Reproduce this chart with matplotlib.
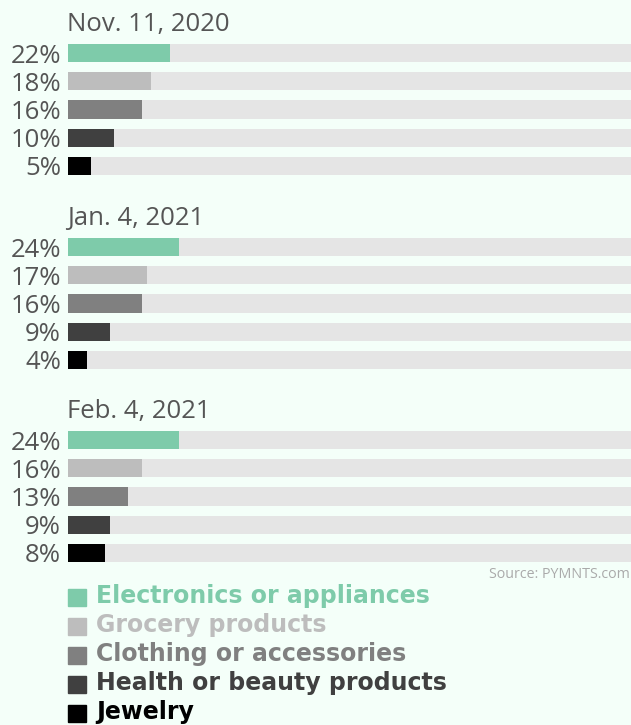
import matplotlib.pyplot as plt

# data
dates = ['Nov. 11, 2020', 'Jan. 4, 2021', 'Feb. 4, 2021']
categories = ['Electronics or appliances', 'Grocery products', 'Clothing or accessories',
              'Health or beauty products', 'Jewelry']
nov_2020 = [22, 18, 16, 10, 5]
jan_2021 = [24, 17, 16, 9, 4]
feb_2021 = [24, 16, 13, 9, 8]
colors = ['#7ecbaa', '#bdbdbd', '#808080', '#404040', '#000000']

W, H = 631, 725
bg = '#f4fff9'
txt = '#555555'
xmax = 121.6  # track spans the full axis width

fig = plt.figure(figsize=(W / 100, H / 100), dpi=100, facecolor=bg)
plt.rcParams['font.family'] = ['Open Sans', 'DejaVu Sans']

panel_tops = [39, 233, 426]  # pixel rows of each panel
panel_h = 141

for date, vals, top in zip(dates, [nov_2020, jan_2021, feb_2021], panel_tops):
    ax = fig.add_axes([68 / W, 1 - (top + panel_h) / H, (W - 68) / W, panel_h / H])
    ax.set_facecolor(bg)
    y = range(len(vals))
    ax.barh(y, [xmax] * len(vals), height=0.64, color='#e5e5e5')
    ax.barh(y, vals, height=0.64, color=colors)
    ax.set_xlim(0, xmax)
    ax.set_ylim(len(vals) - 0.5, -0.5)
    ax.set_yticks(list(y))
    ax.set_yticklabels([f'{v}%' for v in vals], fontsize=18.5, color=txt)
    ax.tick_params(axis='y', length=0, pad=5)
    ax.set_xticks([])
    for s in ax.spines.values():
        s.set_visible(False)
    fig.text(67 / W, 1 - (top - 8) / H, date, fontsize=18.5, color=txt, va='baseline')

fig.text(1 - 1 / W, 1 - 574 / H, 'Source: PYMNTS.com', fontsize=10.3, color='#aaaaaa',
         ha='right', va='center')

# legend
for i, (cat, c) in enumerate(zip(categories, colors)):
    yc = 1 - (597 + i * 29) / H
    fig.patches.append(plt.Rectangle((68 / W, yc - 8.5 / H), 18 / W, 17 / H,
                                     transform=fig.transFigure, color=c))
    fig.text(96 / W, yc + 1 / H, cat, fontsize=17, fontweight='bold', color=c, va='center',
             family='DejaVu Sans')

fig.savefig('out.png', dpi=100, facecolor=bg)
